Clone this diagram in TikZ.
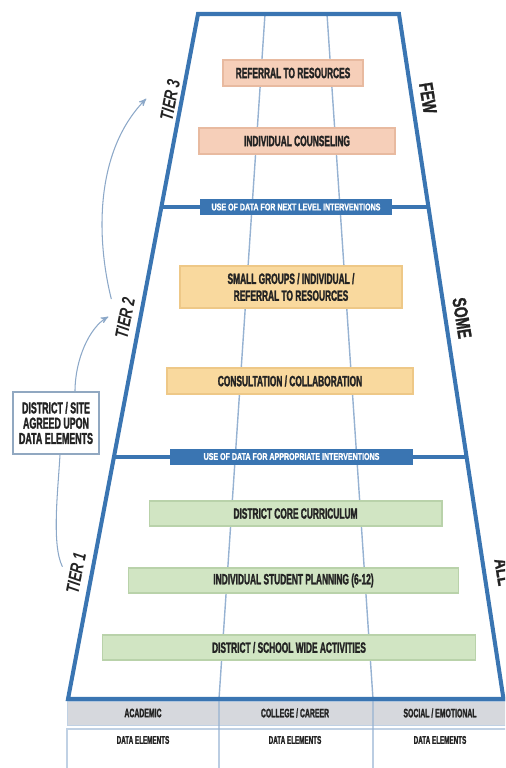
\documentclass[tikz,border=0pt]{standalone}
\usepackage{fontspec}
\setmainfont{Liberation Sans}
\newfontfamily\condfont[FakeStretch=0.56, BoldFeatures={FakeBold=1.6}]{Liberation Sans}
\newfontfamily\barfont[FakeStretch=0.72, BoldFeatures={FakeBold=1.2}]{Liberation Sans}
\usetikzlibrary{arrows}

\definecolor{frameblue}{RGB}{58,117,178}
\definecolor{laneblue}{RGB}{150,178,210}
\definecolor{peach}{RGB}{246,207,185}
\definecolor{peachline}{RGB}{232,186,160}
\definecolor{sand}{RGB}{249,217,158}
\definecolor{sandline}{RGB}{238,200,135}
\definecolor{sage}{RGB}{209,229,195}
\definecolor{sageline}{RGB}{185,210,170}
\definecolor{inkgray}{RGB}{35,35,35}
\definecolor{bandgray}{RGB}{214,216,221}
\definecolor{arrowblue}{RGB}{140,168,200}

\begin{document}
\begin{tikzpicture}[
    x=0.02cm, y=-0.02cm,
    frame/.style={line width=2.3pt, draw=frameblue},
    lane/.style={line width=0.8pt, draw=laneblue},
    level/.style={rectangle, inner sep=0pt, minimum height=0.52cm, align=center,
    text=inkgray, line width=0.6pt, font=\condfont\bfseries\fontsize{8.5}{9.6}\selectfont},
    tier3box/.style={level, fill=peach, draw=peachline},
    tier2box/.style={level, fill=sand, draw=sandline},
    tier1box/.style={level, fill=sage, draw=sageline},
    databar/.style={rectangle, inner sep=0pt, minimum height=0.32cm, fill=frameblue,
    text=white, font=\barfont\bfseries\fontsize{5.6}{6}\selectfont},
    tierlabel/.style={rotate=79, inner sep=0pt, text=inkgray,
    font=\barfont\bfseries\itshape\fontsize{10.5}{11}\selectfont},
    reachlabel/.style={rotate=-81, inner sep=0pt, text=inkgray,
    font=\barfont\bfseries\fontsize{11}{12}\selectfont},
    colhead/.style={inner sep=0pt, text=inkgray, font=\condfont\bfseries\fontsize{7}{8}\selectfont},
    coldata/.style={inner sep=0pt, text=inkgray, font=\condfont\bfseries\fontsize{6.4}{7}\selectfont},
    tierline/.style={draw=arrowblue, line width=0.6pt},
    tierarrow/.style={tierline, ->, >=stealth'}
    ]

\useasboundingbox (0,0) rectangle (505,768);
\clip (0,0) rectangle (505,768);

\fill[bandgray] (67,701) rectangle (510,725);
\draw[laneblue!60, line width=0.5pt] (67,701) rectangle (510,725);
\draw[laneblue!60, line width=0.6pt] (67,775) -- (67,729) -- (510,729);

\draw[lane] (265,14) -- (219,699) -- (219,775);
\draw[lane] (327,14) -- (373,699) -- (373,775);

\draw[frame] (68,699) -- (198,14) -- (399,14) -- (503.5,699) -- cycle;
\draw[frame] (68,699) -- (510,699);

\draw[frame] (161.4,207) -- (428.3,207);
\draw[frame] (113.9,457) -- (466.3,457);

\node[databar, minimum width=3.84cm] (nextbar) at (296,207)
    {USE OF DATA FOR NEXT LEVEL INTERVENTIONS};
\node[databar, minimum width=4.86cm] (apprbar) at (291.5,456.5)
    {USE OF DATA FOR APPROPRIATE INTERVENTIONS};

\node[tier3box, minimum width=2.8cm] (referral) at (293,73) {REFERRAL TO RESOURCES};
\node[tier3box, minimum width=3.92cm] (counsel) at (297,141) {INDIVIDUAL COUNSELING};

\node[tier2box, minimum width=4.44cm, minimum height=0.84cm] (smallgrp) at (291,287)
    {SMALL GROUPS / INDIVIDUAL /\\REFERRAL TO RESOURCES};
\node[tier2box, minimum width=4.92cm] (consult) at (290,381) {CONSULTATION / COLLABORATION};

\node[tier1box, minimum width=5.86cm, minimum height=0.5cm] (core) at (295.5,513.5)
    {DISTRICT CORE CURRICULUM};
\node[tier1box, minimum width=6.62cm, minimum height=0.5cm] (planning) at (293.5,580.5)
    {INDIVIDUAL STUDENT PLANNING (6-12)};
\node[tier1box, minimum width=7.48cm, minimum height=0.5cm] (schoolwide) at (289,647.5)
    {DISTRICT / SCHOOL WIDE ACTIVITIES};

\node[tierlabel] (t3) at (170,100) {TIER 3};
\node[tierlabel] (t2) at (125,318) {TIER 2};
\node[tierlabel] (t1) at (76,573) {TIER 1};

\node[reachlabel] (few) at (428,98) {FEW};
\node[reachlabel] (some) at (462,318) {SOME};
\node[reachlabel] (all) at (503,572) {ALL};

\node[rectangle, draw=laneblue!80!gray, line width=0.6pt, fill=white, inner sep=0pt,
    minimum width=1.72cm, minimum height=1.24cm, align=center, text=inkgray,
    font=\condfont\bfseries\fontsize{9}{8.7}\selectfont] (dsite) at (56,423)
    {DISTRICT / SITE\\AGREED UPON\\DATA ELEMENTS};

\draw[tierarrow] ([xshift=-0.22cm,yshift=-0.06cm]t2.north east) .. controls +(-15,-60) and +(-52,53)
    .. ([xshift=-0.34cm]t3.north);
\draw[tierarrow] ([xshift=0.38cm]dsite.north) .. controls +(0,-32) and +(-19,11)
    .. ([xshift=-0.2cm]t2.north);
\draw[tierline] ([xshift=0.08cm]dsite.south) .. controls +(-2,36) and +(-11,-22)
    .. ([xshift=-0.14cm,yshift=0.1cm]t1.north);

\node[colhead] (academic) at (143,713) {ACADEMIC};
\node[colhead] (college) at (295,713) {COLLEGE / CAREER};
\node[colhead] (social) at (440,713) {SOCIAL / EMOTIONAL};

\node[coldata] (acdata) at (143,740) {DATA ELEMENTS};
\node[coldata] (codata) at (295,740) {DATA ELEMENTS};
\node[coldata] (sodata) at (440,740) {DATA ELEMENTS};

\end{tikzpicture}
\end{document}
